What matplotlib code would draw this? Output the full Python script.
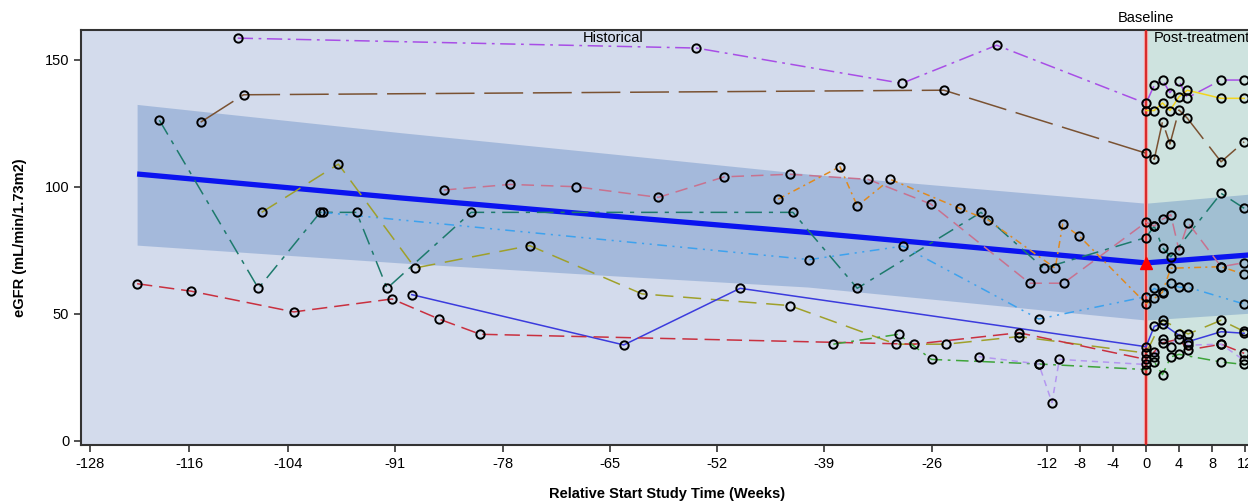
import matplotlib
matplotlib.use("Agg")
import matplotlib.pyplot as plt
import matplotlib.transforms as mtrans

plt.rcParams['font.family'] = ['Liberation Sans', 'DejaVu Sans']
plt.rcParams['lines.scale_dashes'] = False

# ---------------- data ----------------
x_ticks = [-128, -116, -104, -91, -78, -65, -52, -39, -26, -12, -8, -4, 0, 4, 8, 12]
y_ticks = [0, 50, 100, 150]

# regression fit and confidence band
fit_x = [-122.3, -90.4, -65, -41, 0, 14]
fit_y = [105, 95.6, 88.5, 82, 70, 73.5]
band_hi = [132.4, 121.3, 113, 105, 93.5, 97.5]
band_lo = [77, 70, 65, 60.5, 47.5, 50.5]
baseline_x = [0]
baseline_y = [70]

purple_x = [-110.1, -54.5, -29.6, -18.1, 0, 1, 2, 2.9, 4, 5, 9.1, 11.9]
purple_y = [158.5, 154.6, 140.7, 155.7, 132.8, 140, 142, 137, 141.7, 135, 142, 142]

brown_x = [-114.6, -109.4, -24.5, 0, 1, 2, 2.9, 4, 5, 9.1, 11.9]
brown_y = [125.4, 136.2, 138, 113.2, 110.8, 125.6, 116.8, 130.2, 127, 109.8, 117.7]

yellow_x = [0, 1, 2, 2.9, 4, 5, 9.1, 11.9]
yellow_y = [130, 130, 133, 130, 135.4, 138, 134.8, 134.8]

teal_x = [-119.6, -107.6, -100.1, -95.7, -92, -81.8, -42.8, -35, -20, -12.4, 0, 1, 2, 3, 9.1, 11.9]
teal_y = [126.2, 60, 89.9, 89.9, 60, 89.9, 89.9, 60, 89.9, 67.9, 80, 84.5, 76, 72.4, 97.4, 91.5]

pink_x = [-85.1, -77.1, -69.1, -59.1, -51.1, -43.2, -33.7, -26.1, -14.1, -10, 0, 1, 2, 3, 4, 5.1, 9.1, 11.9]
pink_y = [98.7, 100.9, 100, 95.8, 103.9, 104.9, 102.9, 93.2, 62, 62, 86, 84.5, 87.2, 89, 75, 85.8, 68.5, 70.1]

orange_x = [-44.6, -37.1, -35, -31, -22.6, -19.1, -11, -10.1, -8.1, 0, 1, 2, 3, 9.1, 11.9]
orange_y = [95.1, 107.9, 92.4, 102.9, 91.5, 86.8, 67.9, 85.3, 80.6, 54, 56, 58.5, 67.9, 68.5, 65.5]

skyblue_x = [-99.8, -40.8, -29.5, -13, 0, 1, 2, 3, 4, 5.1, 11.9]
skyblue_y = [89.9, 71.3, 76.6, 47.9, 56.7, 60, 58, 62, 60.4, 60.4, 53.8]

olive_x = [-107.2, -97.9, -88.6, -74.7, -61.1, -43.2, -30.3, -24.2, -15.4, 0, 2, 5.1, 9.1, 11.9]
olive_y = [89.9, 108.9, 68, 76.8, 57.8, 53.2, 38, 38, 41, 34.5, 47.5, 42, 47.4, 43]

blue_x = [-89, -63.3, -49.2, 0, 1, 2, 5.1, 9.1, 11.9]
blue_y = [57.5, 37.7, 60, 37, 45, 46, 39, 42.9, 42.3]

red_x = [-122.3, -115.8, -103.3, -91.4, -85.7, -80.7, -28.1, -15.4, 0, 1, 2, 4, 5.1, 9.1, 11.9]
red_y = [61.8, 58.9, 50.7, 55.8, 47.9, 41.9, 38, 42.5, 32, 35, 38.5, 40, 35.7, 38, 34.4]

green_x = [-37.9, -30, -26, -13, 0, 1, 2, 3, 4, 9.1, 11.9]
green_y = [38, 41.9, 32, 30.2, 28, 31, 26, 33, 34, 31, 30]

lilac_x = [-20.3, -13, -11.4, -10.5, 0, 1, 2, 3, 4, 5.1, 9.1, 11.9]
lilac_y = [33.1, 30.2, 15, 32, 30, 33, 40, 37, 42, 37.6, 38, 31.6]

series = [
    (purple_x, purple_y, '#A84EE6', (0, (11, 4, 2, 4))),
    (brown_x, brown_y, '#7A5232', (0, (28, 7))),
    (yellow_x, yellow_y, '#F2D41E', '-'),
    (teal_x, teal_y, '#1D7A6C', (0, (12, 5, 3, 5))),
    (pink_x, pink_y, '#C8728F', (0, (9, 5))),
    (orange_x, orange_y, '#E08A1E', (0, (5, 3, 1.5, 3))),
    (skyblue_x, skyblue_y, '#3DA2EE', (0, (7, 4, 1.5, 4, 1.5, 4))),
    (olive_x, olive_y, '#9FA02A', (0, (13, 7))),
    (blue_x, blue_y, '#3B3BDD', '-'),
    (red_x, red_y, '#C9303F', (0, (11, 5))),
    (green_x, green_y, '#3EA43A', (0, (9, 4, 2, 4))),
    (lilac_x, lilac_y, '#B497F0', (0, (4.5, 3.5))),
]

# ---------------- figure ----------------
fig = plt.figure(figsize=(12.48, 5.04), dpi=100)
ax = fig.add_axes([81 / 1248, (504 - 445) / 504, (1261.5 - 81) / 1248, (445 - 29.5) / 504])
xmin, xmax = -129.1, 14
ax.set_xlim(xmin, xmax)
ax.set_ylim(-1.7, 161.9)

ax.axvspan(xmin, 0, color='#D3DBEC', zorder=0, lw=0)
ax.axvspan(0, xmax, color='#CEE3DF', zorder=0, lw=0)
ax.fill_between(fit_x, band_lo, band_hi, color='#3A6DB5', alpha=0.3, lw=0, zorder=1)
ax.plot(fit_x, fit_y, color='#0A14F0', lw=3.8, zorder=2, solid_capstyle='butt')

ax.axvline(0, color='#F4A0A0', lw=3.0, zorder=2.5)
ax.axvline(0, color='#D42020', lw=1.3, zorder=2.6)

for xs, ys, col, ls in series:
    ax.plot(xs, ys, color=col, ls=ls, lw=1.1, zorder=3)
for xs, ys, col, ls in series:
    ax.plot(xs, ys, ls='none', marker='o', ms=6.0, mfc='none', mec='black', mew=1.4, zorder=4)

ax.plot(baseline_x, baseline_y, ls='none', marker='^', ms=8.5, color='#FF0000', zorder=5)

trans = mtrans.blended_transform_factory(ax.transData, ax.transAxes)
ax.text(xmin / 2, 0.997, 'Historical', transform=trans, ha='center', va='top', fontsize=10.5)
ax.text(0.9, 0.997, 'Post-treatment', transform=trans, ha='left', va='top', fontsize=10.5)
ax.text(0, 1.028, 'Baseline', transform=trans, ha='center', va='center', fontsize=10.5)

ax.set_xticks(x_ticks)
ax.set_xticklabels([str(t) for t in x_ticks])
ax.set_yticks(y_ticks)
ax.tick_params(axis='both', labelsize=10.5, length=5, width=1.2, color='#333333', direction='out')
for s in ax.spines.values():
    s.set_color('#333333')
    s.set_linewidth(1.5)

ax.set_xlabel('Relative Start Study Time (Weeks)', fontsize=10.5, fontweight='bold')
ax.set_ylabel('eGFR (mL/min/1.73m2)', fontsize=10.5, fontweight='bold')
ax.xaxis.set_label_coords((667 - 81) / 1180.5, (445 - 487) / 415.5)
ax.yaxis.set_label_coords((27 - 81) / 1180.5, 0.5)

fig.savefig('out.png', dpi=100)
